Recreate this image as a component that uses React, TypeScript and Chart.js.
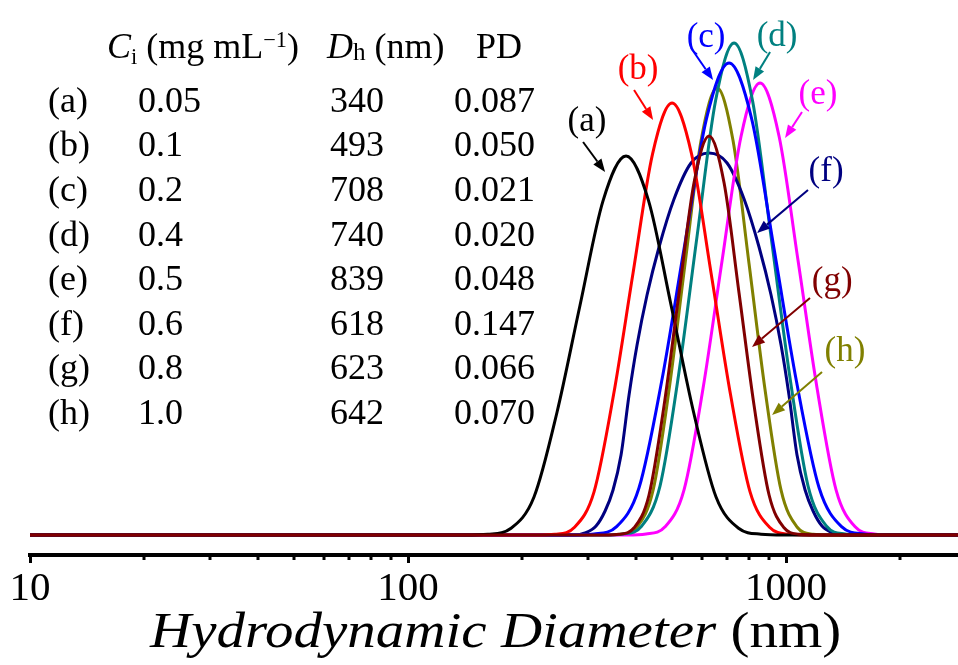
import React, { useEffect, useRef } from 'react';
import { Chart, registerables } from 'chart.js';

Chart.register(...registerables);

// ---------- axis ----------
const X_MIN = 10;
const X_MAX = 2850;
const Y_MIN = -1;
const Y_MAX = 26.75;
const MAJOR_TICKS = [10, 100, 1000];
const MINOR_TICKS = [20, 30, 40, 50, 60, 70, 80, 90, 200, 300, 400, 500, 600, 700, 800, 900, 2000];

// ---------- series (x: hydrodynamic diameter in nm, y: intensity) ----------
const SERIES_LABELS = ['(a)', '(b)', '(c)', '(d)', '(e)', '(f)', '(g)', '(h)'];
const COLORS = ['#000000', '#ff0000', '#0000ff', '#008080', '#ff00ff', '#000080', '#800000', '#808000'];

const X_A = [10, 141.5, 162.7, 187.3, 215.4, 247.9, 285.1, 328.1, 377.3, 432.7, 496.4, 569.2, 652.8, 748.7, 858.8, 984.9, 2850];
const Y_A = [0, 0, 0.04, 0.34, 1.9, 6.15, 11.49, 16.72, 18.95, 16.72, 11.49, 6.15, 1.9, 0.34, 0.04, 0, 0];

const X_B = [10, 217.5, 244.8, 275.7, 310.5, 349.7, 393.8, 443.5, 499.4, 562.3, 633.3, 713.2, 803.1, 904.5, 1018, 1147, 2850];
const Y_B = [0, 0, 0.04, 0.39, 2.16, 7.01, 13.1, 19.06, 21.6, 19.06, 13.1, 7.01, 2.16, 0.39, 0.04, 0, 0];

const X_C = [10, 270.7, 310.5, 356.2, 408.4, 468.5, 537.2, 616.2, 706.7, 810.5, 929.5, 1066, 1223, 1402, 1608, 1844, 2850];
const Y_C = [0, 0, 0.05, 0.42, 2.36, 7.66, 14.31, 20.83, 23.6, 20.83, 14.31, 7.66, 2.36, 0.42, 0.05, 0, 0];

const X_D = [10, 331.1, 370.5, 414.7, 464.2, 519.5, 581.4, 650.9, 728.5, 815.4, 912.7, 1022, 1143, 1280, 1432, 1603, 2850];
const Y_D = [0, 0, 0.05, 0.44, 2.46, 7.99, 14.92, 21.71, 24.6, 21.71, 14.92, 7.99, 2.46, 0.44, 0.05, 0, 0];

const X_E = [10, 379.7, 426.2, 478.6, 537.2, 603.2, 677.2, 760.3, 853.5, 958.3, 1076, 1208, 1356, 1523, 1710, 1919, 2850];
const Y_E = [0, 0, 0.05, 0.41, 2.26, 7.34, 13.71, 19.94, 22.6, 19.94, 13.71, 7.34, 2.26, 0.41, 0.05, 0, 0];

const X_F = [10, 274.9, 293.9, 314.3, 332.1, 348.6, 366.0, 384.3, 403.5, 428.8, 461.4, 505.5, 560.6, 625.6, 698.2, 774.3, 848.3, 912.7, 970.0, 1018, 1069, 1123, 1179, 1245, 1332, 1424, 2850];
const Y_F = [0, 0, 0.1, 0.45, 1.2, 2.25, 4.0, 7.0, 9.5, 12.0, 14.4, 16.8, 18.6, 19.1, 18.6, 16.8, 14.4, 12.0, 9.5, 7.0, 4.0, 2.25, 1.2, 0.45, 0.1, 0, 0];

const X_G = [10, 330.1, 361.6, 396.2, 434.0, 475.7, 521.1, 570.9, 625.6, 685.5, 751.0, 822.9, 901.8, 987.9, 1082, 1186, 2850];
const Y_G = [0, 0, 0.04, 0.36, 2.0, 6.48, 12.1, 17.61, 19.95, 17.61, 12.1, 6.48, 2.0, 0.36, 0.04, 0, 0];

const X_H = [10, 332.1, 366.0, 403.5, 444.9, 490.3, 540.5, 595.9, 656.9, 724.0, 798.2, 879.9, 970.0, 1069, 1179, 1299, 2850];
const Y_H = [0, 0, 0.04, 0.4, 2.24, 7.26, 13.56, 19.72, 22.35, 19.72, 13.56, 7.26, 2.24, 0.4, 0.04, 0, 0];

const SERIES_X = [X_A, X_B, X_C, X_D, X_E, X_F, X_G, X_H];
const SERIES_Y = [Y_A, Y_B, Y_C, Y_D, Y_E, Y_F, Y_G, Y_H];

// ---------- curve labels & arrows (data coordinates) ----------
const LABEL_X = [297.5, 406.0, 614.3, 946.7, 1215, 1276, 1324, 1432];
const LABEL_Y = [20.65, 23.25, 24.85, 24.9, 22.0, 18.15, 12.65, 9.15];
const ARROW_FROM_X = [290.4, 396.2, 560.6, 907.3, 1102, 1143, 1157, 1245];
const ARROW_FROM_Y = [19.65, 22.25, 24.35, 24.15, 21.15, 17.25, 11.85, 8.15];
const ARROW_TO_X = [332.1, 444.9, 641.1, 817.9, 993.9, 838.0, 812.9, 918.3];
const ARROW_TO_Y = [18.15, 20.75, 22.75, 22.75, 19.85, 15.1, 9.4, 6.0];

// ---------- table ----------
const CONC = ['0.05', '0.1', '0.2', '0.4', '0.5', '0.6', '0.8', '1.0'];
const DH = ['340', '493', '708', '740', '839', '618', '623', '642'];
const PD = ['0.087', '0.050', '0.021', '0.020', '0.048', '0.147', '0.066', '0.070'];

const SERIF = '"Liberation Serif", "Times New Roman", serif';

const minorTickPlugin = {
  id: 'minorTicks',
  afterDraw(chart: any) {
    const xs = chart.scales.x;
    const ctx = chart.ctx;
    ctx.save();
    ctx.strokeStyle = '#000';
    ctx.lineWidth = 3;
    MINOR_TICKS.forEach((v) => {
      const px = Math.round(xs.getPixelForValue(v));
      ctx.beginPath();
      ctx.moveTo(px, xs.top);
      ctx.lineTo(px, xs.top + 5);
      ctx.stroke();
    });
    ctx.restore();
  },
};

const annotationPlugin = {
  id: 'curveLabels',
  afterDatasetsDraw(chart: any) {
    const xs = chart.scales.x;
    const ys = chart.scales.y;
    const ctx = chart.ctx;
    ctx.save();
    for (let i = 0; i < SERIES_LABELS.length; i++) {
      const color = COLORS[i];
      const x0 = xs.getPixelForValue(ARROW_FROM_X[i]);
      const y0 = ys.getPixelForValue(ARROW_FROM_Y[i]);
      const x1 = xs.getPixelForValue(ARROW_TO_X[i]);
      const y1 = ys.getPixelForValue(ARROW_TO_Y[i]);
      const ang = Math.atan2(y1 - y0, x1 - x0);
      const headLen = 13;
      const headW = 5;
      const bx = x1 - headLen * Math.cos(ang);
      const by = y1 - headLen * Math.sin(ang);
      ctx.strokeStyle = color;
      ctx.fillStyle = color;
      ctx.lineWidth = 2;
      ctx.beginPath();
      ctx.moveTo(x0, y0);
      ctx.lineTo(bx, by);
      ctx.stroke();
      ctx.beginPath();
      ctx.moveTo(x1, y1);
      ctx.lineTo(bx + headW * Math.sin(ang), by - headW * Math.cos(ang));
      ctx.lineTo(bx - headW * Math.sin(ang), by + headW * Math.cos(ang));
      ctx.closePath();
      ctx.fill();
      ctx.font = '35px ' + SERIF;
      ctx.textAlign = 'center';
      ctx.textBaseline = 'middle';
      ctx.fillText(SERIES_LABELS[i], xs.getPixelForValue(LABEL_X[i]), ys.getPixelForValue(LABEL_Y[i]));
    }
    ctx.restore();
  },
};

function Txt(props: { x: number; baseline: number; size: number; children: any; style?: any }) {
  const { x, baseline, size, children, style } = props;
  return (
    <div
      style={{
        position: 'absolute',
        left: x,
        top: baseline - 0.8375 * size,
        fontSize: size,
        lineHeight: size + 'px',
        fontFamily: SERIF,
        whiteSpace: 'nowrap',
        color: '#000',
        ...(style || {}),
      }}
    >
      {children}
    </div>
  );
}

export default function App() {
  const canvasRef = useRef<HTMLCanvasElement | null>(null);

  useEffect(() => {
    const canvas = canvasRef.current;
    if (!canvas) return;
    const datasets = SERIES_X.map((xs, i) => ({
      label: SERIES_LABELS[i],
      data: xs.map((x, j) => ({ x, y: SERIES_Y[i][j] })),
      borderColor: COLORS[i],
      backgroundColor: COLORS[i],
      borderWidth: 3,
      pointRadius: 0,
      fill: false,
      cubicInterpolationMode: 'monotone' as const,
      order: i === 6 ? 0 : 1,
    }));

    const chart = new Chart(canvas, {
      type: 'line',
      data: { datasets },
      options: {
        animation: false,
        responsive: false,
        devicePixelRatio: 1,
        layout: { padding: { left: 30, right: 0, top: 0, bottom: 50 } },
        plugins: {
          legend: { display: false },
          tooltip: { enabled: false },
          title: { display: false },
        },
        scales: {
          x: {
            type: 'logarithmic',
            min: X_MIN,
            max: X_MAX,
            afterBuildTicks: (scale: any) => {
              scale.ticks = [...MAJOR_TICKS, ...MINOR_TICKS]
                .sort((a, b) => a - b)
                .map((v) => ({ value: v }));
            },
            ticks: {
              autoSkip: false,
              maxRotation: 0,
              minRotation: 0,
              padding: 5.5,
              color: '#000',
              font: { family: SERIF, size: 41, lineHeight: 1 },
              callback: (value: any) => (MAJOR_TICKS.includes(Number(value)) ? String(value) : ''),
            },
            grid: {
              display: true,
              drawOnChartArea: false,
              drawTicks: true,
              tickLength: 8,
              tickWidth: 3,
              tickColor: (ctx: any) =>
                ctx.tick && MAJOR_TICKS.includes(ctx.tick.value) ? '#000' : 'rgba(0,0,0,0)',
            },
            border: { display: true, color: '#000', width: 4 },
          },
          y: {
            type: 'linear',
            display: false,
            min: Y_MIN,
            max: Y_MAX,
          },
        },
      },
      plugins: [minorTickPlugin, annotationPlugin],
    } as any);
    return () => chart.destroy();
  }, []);

  const rowBase = (i: number) => 112 + i * 44.6;
  const size = 36;

  return (
    <div style={{ position: 'fixed', left: 0, top: 0, width: 958, height: 665, background: '#fff', overflow: 'hidden' }}>
      <canvas ref={canvasRef} width={958} height={665} style={{ position: 'absolute', left: 0, top: 0 }} />
      {/* table header */}
      <Txt x={107} baseline={58} size={size}>
        <i>C</i>
        <span style={{ fontSize: '0.62em', position: 'relative', top: '0.28em' }}>i</span> (mg mL
        <span style={{ fontSize: '0.62em', position: 'relative', top: '-0.5em' }}>−1</span>)
      </Txt>
      <Txt x={327} baseline={58} size={size}>
        <i>D</i>
        <span style={{ fontSize: '0.7em', position: 'relative', top: '0.1em' }}>h</span> (nm)
      </Txt>
      <Txt x={476} baseline={58} size={size}>
        PD
      </Txt>
      {SERIES_LABELS.map((lab, i) => (
        <React.Fragment key={lab}>
          <Txt x={48} baseline={rowBase(i)} size={size}>
            {lab}
          </Txt>
          <Txt x={138} baseline={rowBase(i)} size={size}>
            {CONC[i]}
          </Txt>
          <Txt x={330} baseline={rowBase(i)} size={size}>
            {DH[i]}
          </Txt>
          <Txt x={454} baseline={rowBase(i)} size={size}>
            {PD[i]}
          </Txt>
        </React.Fragment>
      ))}
      {/* axis title */}
      <Txt
        x={150}
        baseline={647}
        size={50}
        style={{ transform: 'scaleX(1.14)', transformOrigin: 'left top' }}
      >
        <i>Hydrodynamic Diameter</i> (nm)
      </Txt>
    </div>
  );
}
